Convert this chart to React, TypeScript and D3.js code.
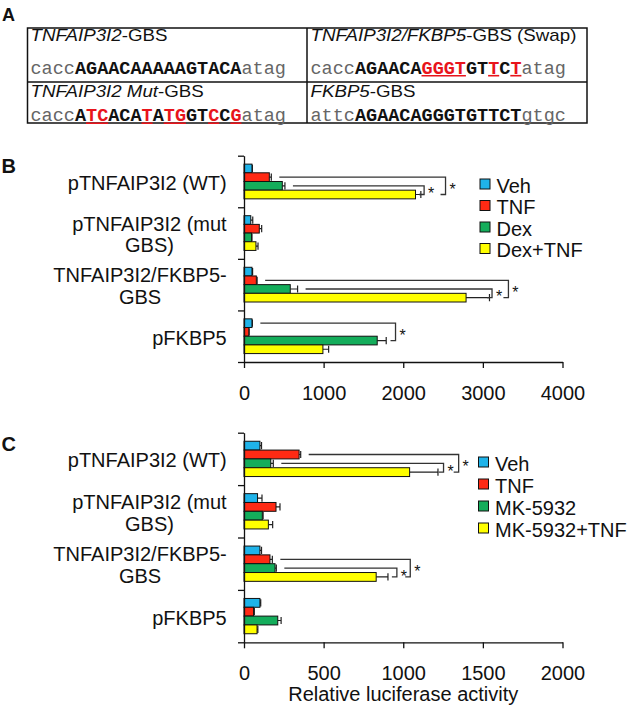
import React, { useEffect, useRef } from "react";
import * as d3 from "d3";

// category labels (shared by panels B and C), split as in the figure
const categoryLines = [
  ["pTNFAIP3I2 (WT)"],
  ["pTNFAIP3I2 (mut", "GBS)"],
  ["TNFAIP3I2/FKBP5-", "GBS"],
  ["pFKBP5"],
];

const seriesB = ["Veh", "TNF", "Dex", "Dex+TNF"];
const seriesC = ["Veh", "TNF", "MK-5932", "MK-5932+TNF"];
const colors = ["#1fb3e9", "#ff2a14", "#14ad5b", "#ffff00"];

// panel B: relative luciferase activity, one value per category
const vehB = [100, 85, 100, 100];
const tnfB = [318, 192, 155, 60];
const dexB = [481, 95, 581, 1673];
const dexTnfB = [2154, 150, 2789, 991];
const vehBErr = [5, 25, 8, 5];
const tnfBErr = [25, 30, 10, 5];
const dexBErr = [33, 5, 92, 113];
const dexTnfBErr = [67, 26, 294, 72];

// panel C
const vehC = [100, 85, 100, 100];
const tnfC = [346, 201, 163, 60];
const mkC = [168, 115, 195, 212];
const mkTnfC = [1040, 153, 830, 82];
const vehCErr = [10, 28, 10, 5];
const tnfCErr = [10, 25, 15, 5];
const mkCErr = [16, 5, 8, 21];
const mkTnfCErr = [178, 27, 74, 5];

const ticksB = [0, 1000, 2000, 3000, 4000];
const ticksC = [0, 500, 1000, 1500, 2000];

// significance brackets: category, from series, to series, right edge (data units)
const bracketsB = [
  { cat: 0, from: 1, to: 3, at: 2531 },
  { cat: 0, from: 2, to: 3, at: 2262 },
  { cat: 2, from: 1, to: 3, at: 3321 },
  { cat: 2, from: 2, to: 3, at: 3115 },
  { cat: 3, from: 0, to: 2, at: 1903 },
];
const bracketsC = [
  { cat: 0, from: 1, to: 3, at: 1348 },
  { cat: 0, from: 2, to: 3, at: 1253 },
  { cat: 2, from: 1, to: 3, at: 1044 },
  { cat: 2, from: 2, to: 3, at: 960 },
];

// panel A table: titles (italic part, plain part) and sequences (n = plain, b = bold, r = bold red mutated)
const tableTitles = [
  ["TNFAIP3I2", "-GBS"],
  ["TNFAIP3I2/FKBP5", "-GBS (Swap)"],
  ["TNFAIP3I2 Mut", "-GBS"],
  ["FKBP5", "-GBS"],
];
const tableSeqs = [
  [["cacc", "n"], ["AGAACAAAAAGTACA", "b"], ["atag", "n"]],
  [["cacc", "n"], ["AGAACA", "b"], ["GGGT", "r"], ["GT", "b"], ["T", "r"], ["C", "b"], ["T", "r"], ["atag", "n"]],
  [["cacc", "n"], ["A", "b"], ["TC", "r"], ["ACA", "b"], ["T", "r"], ["A", "b"], ["TG", "r"], ["GT", "b"], ["C", "r"], ["C", "b"], ["G", "r"], ["atag", "n"]],
  [["attc", "n"], ["AGAACAGGGTGTTCT", "b"], ["gtgc", "n"]],
];

const sans = "'Liberation Sans', Arial, Helvetica, sans-serif";
const mono = "'Liberation Mono', 'Courier New', monospace";
const xLeft = 244;
const xRight = 562.5;
const labelRight = 226.7;

const drawTable = (svg) => {
  const g = svg.append("g");
  const left = 27.5, mid = 307, right = 587, top = 28, hmid = 82, bottom = 123;
  g.append("rect").attr("x", left).attr("y", top).attr("width", right - left).attr("height", bottom - top)
    .attr("fill", "none").attr("stroke", "#111").attr("stroke-width", 1.5);
  g.append("line").attr("x1", mid).attr("x2", mid).attr("y1", top).attr("y2", bottom).attr("stroke", "#111").attr("stroke-width", 1.5);
  g.append("line").attr("x1", left).attr("x2", right).attr("y1", hmid).attr("y2", hmid).attr("stroke", "#111").attr("stroke-width", 1.5);

  const cellX = [30.5, 310.5, 30.5, 310.5];
  const titleY = [41, 41, 96.5, 96.5];
  const seqY = [73.5, 73.5, 121, 121];
  const fs = 18.5;
  const cw = fs * 0.6;

  tableTitles.forEach(([it, plain], i) => {
    const t = g.append("text")
      .attr("transform", `translate(${cellX[i]},${titleY[i]}) scale(1.17,1)`)
      .attr("font-family", sans).attr("font-size", 16).attr("fill", "#111");
    t.append("tspan").attr("font-style", "italic").text(it);
    t.append("tspan").text(plain);
  });

  tableSeqs.forEach((segs, i) => {
    const t = g.append("text").attr("x", cellX[i]).attr("y", seqY[i])
      .attr("font-family", mono).attr("font-size", fs).attr("xml:space", "preserve");
    let k = 0;
    segs.forEach(([s, kind]) => {
      t.append("tspan")
        .attr("font-weight", kind === "n" ? "normal" : "bold")
        .attr("fill", kind === "r" ? "#e8141b" : kind === "n" ? "#666" : "#111")
        .text(s);
      if (kind === "r") {
        g.append("line")
          .attr("x1", cellX[i] + k * cw).attr("x2", cellX[i] + (k + s.length) * cw)
          .attr("y1", seqY[i] + 2.2).attr("y2", seqY[i] + 2.2)
          .attr("stroke", "#e8141b").attr("stroke-width", 1.6);
      }
      k += s.length;
    });
  });
};

const drawPanel = (svg, p) => {
  const g = svg.append("g").attr("font-family", sans);
  const x = d3.scaleLinear().domain([0, p.max]).range([xLeft, xRight]);
  const band = d3.scaleBand().domain(d3.range(categoryLines.length)).range([p.top, p.bottom]);
  const sub = d3.scaleBand().domain(d3.range(p.series.length)).range([0, band.bandwidth()]).paddingOuter(0.97);
  const bh = sub.bandwidth();
  const cy = (c, s) => band(c) + sub(s) + bh / 2;

  const rows = p.values.flatMap((vals, s) => vals.map((v, c) => ({ s, c, v, e: p.errors[s][c] })));

  // error bars (positive side only)
  g.append("g").selectAll("path").data(rows).join("path")
    .attr("d", (d) => {
      const yy = cy(d.c, d.s), xe = x(d.v + d.e);
      return `M${x(d.v)},${yy}H${xe}M${xe},${yy - 3.6}V${yy + 3.6}`;
    })
    .attr("fill", "none").attr("stroke", "#222").attr("stroke-width", 1.2);

  g.append("g").selectAll("rect").data(rows).join("rect")
    .attr("x", x(0)).attr("y", (d) => band(d.c) + sub(d.s))
    .attr("width", (d) => x(d.v) - x(0)).attr("height", bh)
    .attr("fill", (d) => colors[d.s]).attr("stroke", "#111").attr("stroke-width", 1);

  // axes
  const edges = d3.scaleLinear().domain([0, categoryLines.length]).range([p.top, p.bottom]);
  g.append("g").attr("transform", `translate(${x(0)},0)`)
    .call(d3.axisLeft(edges).tickValues(d3.range(categoryLines.length + 1)).tickFormat(() => "").tickSize(6).tickSizeOuter(0))
    .call((a) => a.selectAll("line, path").attr("stroke", "#111").attr("stroke-width", 1.3));

  g.append("g").attr("transform", `translate(0,${p.bottom})`)
    .call(d3.axisBottom(x).tickValues(p.ticks).tickFormat(d3.format("d")).tickSize(6).tickSizeOuter(0).tickPadding(18))
    .call((a) => {
      a.attr("font-size", 20).attr("font-family", sans);
      a.selectAll("line, path").attr("stroke", "#111").attr("stroke-width", 1.3);
      a.selectAll("text").attr("fill", "#111");
    });

  // category labels: single lines right aligned, wrapped ones centred on their block
  const lineH = 21.5;
  categoryLines.forEach((lines, c) => {
    const yc = band(c) + band.bandwidth() / 2 + 1.5;
    const first = yc - ((lines.length - 1) * lineH) / 2 + 7;
    const t = g.append("text").attr("font-size", 20).attr("fill", "#111");
    lines.forEach((ln, i) => t.append("tspan").attr("y", first + i * lineH).text(ln));
    if (lines.length === 1) {
      t.attr("text-anchor", "end").selectAll("tspan").attr("x", labelRight);
    } else {
      const w = d3.max(t.selectAll("tspan").nodes(), (n) => n.getComputedTextLength());
      t.attr("text-anchor", "middle").selectAll("tspan").attr("x", labelRight - w / 2);
    }
  });

  // significance brackets
  p.brackets.forEach((b) => {
    const y1 = cy(b.cat, b.from), y2 = cy(b.cat, b.to);
    const x1 = x(p.values[b.from][b.cat] + p.errors[b.from][b.cat]) + 8;
    const bx = x(b.at);
    g.append("path")
      .attr("d", `M${x1},${y1}H${bx}V${y2}H${bx - 5}`)
      .attr("fill", "none").attr("stroke", "#333").attr("stroke-width", 1.3);
    g.append("text").attr("x", bx + 7).attr("y", (y1 + y2) / 2 + 9)
      .attr("text-anchor", "middle").attr("font-size", 16).attr("fill", "#111").text("*");
  });

  // legend
  const lg = g.append("g");
  p.series.forEach((name, i) => {
    const yy = p.legendY + i * p.legendStep;
    lg.append("rect").attr("x", p.legendX).attr("y", yy).attr("width", 10).attr("height", 10)
      .attr("fill", colors[i]).attr("stroke", "#111").attr("stroke-width", 1);
    lg.append("text").attr("x", p.legendX + 16.5).attr("y", yy + 13.5)
      .attr("font-size", 20).attr("fill", "#111").text(name);
  });
};

const panelB = {
  top: 155.7, bottom: 362, max: 4000, ticks: ticksB, series: seriesB,
  values: [vehB, tnfB, dexB, dexTnfB], errors: [vehBErr, tnfBErr, dexBErr, dexTnfBErr],
  brackets: bracketsB, legendX: 480, legendY: 179, legendStep: 21.5,
};
const panelC = {
  top: 432.7, bottom: 642.3, max: 2000, ticks: ticksC, series: seriesC,
  values: [vehC, tnfC, mkC, mkTnfC], errors: [vehCErr, tnfCErr, mkCErr, mkTnfCErr],
  brackets: bracketsC, legendX: 478.5, legendY: 457, legendStep: 22,
};

const App = () => {
  const svgRef = useRef(null);

  useEffect(() => {
    const svg = d3.select(svgRef.current);
    svg.selectAll("*").remove();

    drawTable(svg);
    drawPanel(svg, panelB);
    drawPanel(svg, panelC);

    // panel letters
    const letters = [["A", 2, 20.7, 18], ["B", 1.5, 172.7, 20], ["C", 1.5, 450.5, 20]];
    letters.forEach(([l, lx, ly, fs]) => {
      svg.append("text").attr("x", lx).attr("y", ly).attr("font-family", sans)
        .attr("font-weight", "bold").attr("font-size", fs).attr("fill", "#111").text(l);
    });

    svg.append("text").attr("x", (xLeft + xRight) / 2).attr("y", 701)
      .attr("text-anchor", "middle").attr("font-family", sans).attr("font-size", 20)
      .attr("fill", "#111").text("Relative luciferase activity");
  }, []);

  return (
    <svg
      ref={svgRef}
      width={633}
      height={708}
      style={{ position: "absolute", left: 0, top: 0, background: "#fff" }}
    />
  );
};

export default App;
